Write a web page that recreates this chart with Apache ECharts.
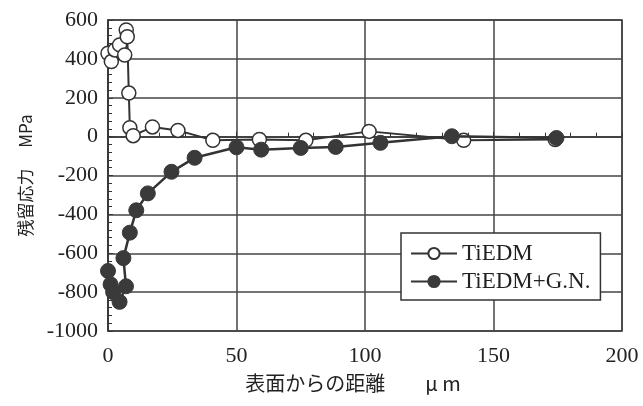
<!DOCTYPE html>
<html>
<head>
<meta charset="utf-8">
<script src="https://cdn.jsdelivr.net/npm/echarts@6/dist/echarts.min.js"></script>
<style>
  html, body { margin: 0; padding: 0; background: #fff; }
  #chart { width: 643px; height: 406px; }
</style>
</head>
<body>
<div id="chart"></div>
<script>
// Residual stress vs. depth from the surface
const seriesNames = ['TiEDM', 'TiEDM+G.N.'];

// TiEDM (open circles)
const tiedmDepth  = [0, 1.3, 2.7, 4.5, 6.5, 7.1, 7.5, 8.1, 8.5, 9.8, 17.3, 27.2, 40.8, 58.9, 77, 101.6, 138.4, 174];
const tiedmStress = [429, 386, 446, 472, 420, 549, 514, 224, 46, 5, 50, 32, -19, -15, -19, 27, -19, -15];

// TiEDM + G.N. (filled circles)
const gnDepth  = [0, 1, 2, 4.5, 7, 6, 8.5, 11, 15.5, 24.7, 33.7, 50, 59.6, 75, 88.6, 106, 133.8, 174.5];
const gnStress = [-691, -760, -800, -850, -770, -625, -494, -379, -292, -181, -109, -55, -67, -58, -53, -32, 2, -7];

const xTicks = [0, 50, 100, 150, 200];
const yTicks = [-1000, -800, -600, -400, -200, 0, 200, 400, 600];

const pairs = (xs, ys) => xs.map((x, i) => [x, ys[i]]);

const ink = '#333';
const serif = '"Liberation Serif", "Times New Roman", serif';
const cjk = '"Noto Sans CJK JP", "Noto Sans", sans-serif';

const chart = echarts.init(document.getElementById('chart'));
chart.setOption({
  animation: false,
  backgroundColor: '#fff',
  grid: {
    left: 108, right: 21, top: 20, bottom: 75,
    show: true, borderColor: ink, borderWidth: 1.5
  },
  legend: {
    orient: 'vertical',
    left: 401, top: 233,
    backgroundColor: '#fff',
    borderColor: ink, borderWidth: 1.5,
    padding: [9, 10, 7, 9],
    itemWidth: 46, itemHeight: 14, itemGap: 5,
    textStyle: { fontFamily: serif, fontSize: 23, color: '#222' },
    data: seriesNames
  },
  xAxis: {
    type: 'value',
    min: xTicks[0], max: xTicks[xTicks.length - 1], interval: 50,
    name: '表面からの距離　　μ m',
    nameLocation: 'middle', nameGap: 42,
    nameTextStyle: { fontFamily: cjk, fontSize: 20, color: '#222', padding: [0, 24, 0, 0] },
    axisLine: { show: true, lineStyle: { color: ink, width: 1.5 } },
    axisTick: { show: true, inside: true, length: 5, lineStyle: { color: ink } },
    minorTick: { show: true, splitNumber: 5, length: 4, lineStyle: { color: ink } },
    axisLabel: { fontFamily: serif, fontSize: 22, color: '#222', margin: 14 },
    splitLine: { show: true, lineStyle: { color: '#444', width: 1.5 } }
  },
  yAxis: {
    type: 'value',
    min: yTicks[0], max: yTicks[yTicks.length - 1], interval: 200,
    name: '残留応力　 MPa',
    nameLocation: 'middle', nameGap: 74, nameRotate: 90,
    nameTextStyle: { fontFamily: cjk, fontSize: 17, color: '#222' },
    axisLine: { show: true, lineStyle: { color: ink, width: 1.5 } },
    axisTick: { show: true, inside: true, length: 5, lineStyle: { color: ink } },
    minorTick: { show: true, splitNumber: 5, length: 4, lineStyle: { color: ink } },
    axisLabel: { fontFamily: serif, fontSize: 22, color: '#222', margin: 10, formatter: v => String(v) },
    splitLine: { show: true, lineStyle: { color: '#444', width: 1.5 } }
  },
  series: [
    {
      name: seriesNames[0],
      type: 'line',
      data: pairs(tiedmDepth, tiedmStress),
      symbol: 'circle', symbolSize: 14,
      lineStyle: { color: ink, width: 2 },
      itemStyle: { color: '#fff', borderColor: ink, borderWidth: 1.5 },
      z: 3
    },
    {
      name: seriesNames[1],
      type: 'line',
      data: pairs(gnDepth, gnStress),
      symbol: 'circle', symbolSize: 15,
      lineStyle: { color: ink, width: 2.5 },
      itemStyle: { color: '#3a3a3a', borderColor: '#3a3a3a', borderWidth: 1 },
      z: 4
    }
  ]
});
</script>
</body>
</html>
